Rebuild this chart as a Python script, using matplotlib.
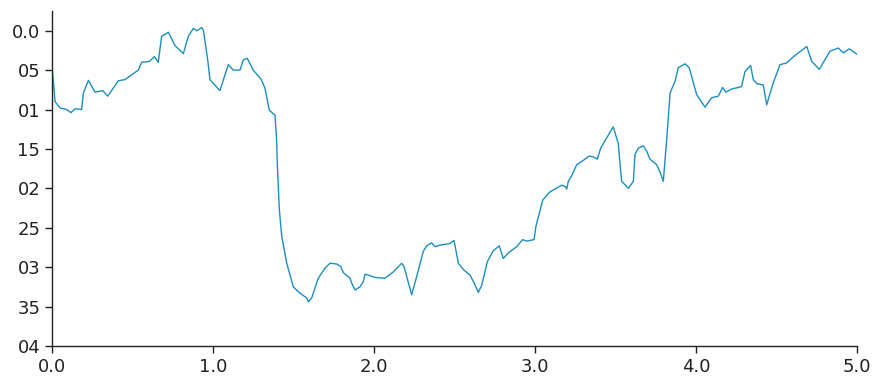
import matplotlib
matplotlib.use("Agg")
import matplotlib.pyplot as plt

# Series sampled along the trace
x = [0.0, 0.019, 0.05, 0.091, 0.118, 0.143, 0.184, 0.195, 0.226, 0.267, 0.315, 0.346,
     0.412, 0.453, 0.536, 0.557, 0.605, 0.636, 0.66, 0.681, 0.723, 0.764, 0.816, 0.847,
     0.878, 0.899, 0.930, 0.94, 0.967, 0.981, 1.043, 1.095, 1.126, 1.168, 1.188, 1.213,
     1.25, 1.30, 1.323, 1.35, 1.385, 1.395, 1.40, 1.412, 1.427, 1.458, 1.499, 1.54,
     1.582, 1.592, 1.613, 1.654, 1.696, 1.727, 1.768, 1.793, 1.81, 1.851, 1.861, 1.882,
     1.913, 1.934, 1.944, 1.965, 2.006, 2.068, 2.12, 2.172, 2.186, 2.234, 2.265, 2.306,
     2.327, 2.358, 2.379, 2.41, 2.472, 2.497, 2.524, 2.555, 2.596, 2.617, 2.648, 2.669,
     2.704, 2.741, 2.778, 2.803, 2.834, 2.886, 2.923, 2.948, 2.994, 3.006, 3.048, 3.089,
     3.114, 3.166, 3.19, 3.197, 3.207, 3.228, 3.259, 3.29, 3.337, 3.362, 3.387, 3.408,
     3.445, 3.486, 3.517, 3.538, 3.58, 3.611, 3.621, 3.642, 3.673, 3.694, 3.714, 3.756,
     3.776, 3.797, 3.818, 3.839, 3.87, 3.89, 3.932, 3.958, 4.004, 4.056, 4.097, 4.139,
     4.165, 4.186, 4.221, 4.283, 4.304, 4.339, 4.356, 4.377, 4.418, 4.439, 4.48, 4.522,
     4.563, 4.605, 4.688, 4.719, 4.766, 4.832, 4.884, 4.915, 4.953, 5.0]
y = [0.45, 0.90, 0.98, 1.0, 1.04, 0.99, 1.0, 0.79, 0.63, 0.78, 0.76, 0.83,
     0.635, 0.62, 0.50, 0.40, 0.39, 0.33, 0.40, 0.07, 0.02, 0.19, 0.29, 0.07,
     -0.03, 0.0, -0.04, -0.01, 0.37, 0.62, 0.76, 0.43, 0.50, 0.50, 0.37, 0.35,
     0.50, 0.62, 0.73, 1.01, 1.07, 1.38, 1.72, 2.27, 2.61, 2.95, 3.25, 3.33,
     3.39, 3.44, 3.39, 3.14, 3.01, 2.95, 2.96, 2.99, 3.07, 3.14, 3.20, 3.29,
     3.25, 3.18, 3.09, 3.10, 3.13, 3.14, 3.06, 2.95, 2.99, 3.35, 3.12, 2.80,
     2.73, 2.69, 2.74, 2.72, 2.70, 2.66, 2.95, 3.03, 3.10, 3.18, 3.32, 3.23,
     2.93, 2.79, 2.73, 2.89, 2.82, 2.74, 2.65, 2.67, 2.65, 2.48, 2.15, 2.05,
     2.02, 1.96, 1.98, 2.01, 1.91, 1.84, 1.70, 1.66, 1.59, 1.60, 1.63, 1.49,
     1.36, 1.22, 1.43, 1.91, 2.00, 1.91, 1.57, 1.49, 1.46, 1.53, 1.63, 1.70,
     1.79, 1.91, 1.38, 0.79, 0.64, 0.47, 0.42, 0.47, 0.81, 0.97, 0.85, 0.83,
     0.72, 0.78, 0.74, 0.71, 0.52, 0.44, 0.62, 0.67, 0.69, 0.94, 0.66, 0.43,
     0.41, 0.33, 0.20, 0.39, 0.49, 0.26, 0.22, 0.28, 0.23, 0.30]

x_ticks = [0.0, 1.0, 2.0, 3.0, 4.0, 5.0]
x_labels = ["0.0", "1.0", "2.0", "3.0", "4.0", "5.0"]
y_ticks = [0.0, 0.5, 1.0, 1.5, 2.0, 2.5, 3.0, 3.5, 4.0]
y_labels = ["0.0", "05", "01", "15", "02", "25", "03", "35", "04"]

fig = plt.figure(figsize=(8.72, 3.76), dpi=100)
ax = fig.add_axes([52 / 872, 30 / 376, 805 / 872, 335 / 376])
ax.plot(x, y, color="#1b8ec2", linewidth=1.0)

ax.set_xlim(0, 5)
ax.set_ylim(4.0, -0.25)
ax.set_xticks(x_ticks)
ax.set_xticklabels(x_labels)
ax.set_yticks(y_ticks)
ax.set_yticklabels(y_labels)
ax.tick_params(axis="both", labelsize=13, length=5, width=1, color="#222222",
               labelcolor="#222222")
for side in ("top", "right"):
    ax.spines[side].set_visible(False)
for side in ("left", "bottom"):
    ax.spines[side].set_color("#222222")
    ax.spines[side].set_linewidth(1)

fig.savefig("out.png", dpi=100)
